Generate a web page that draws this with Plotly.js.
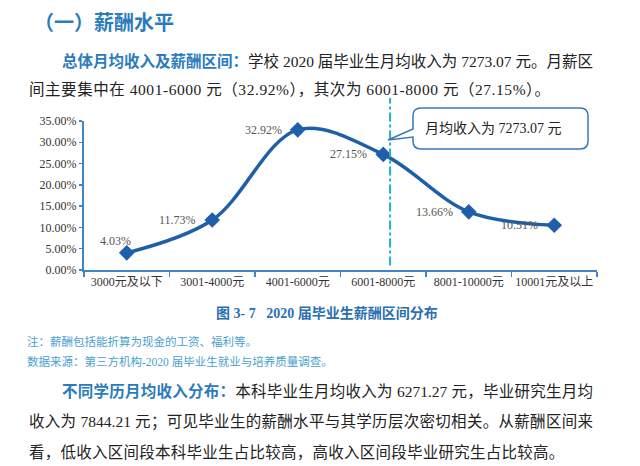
<!DOCTYPE html>
<html>
<head>
<meta charset="utf-8">
<script src="https://cdn.plot.ly/plotly-3.0.1.min.js"></script>
<style>
  html, body { margin: 0; padding: 0; background: #fff; }
  #page { position: relative; width: 640px; height: 466px; overflow: hidden; }
  #myDiv { position: absolute; left: 0; top: 0; width: 640px; height: 466px; }
  .ln { position: absolute; white-space: nowrap; line-height: 20px; height: 20px;
        font-family: "Liberation Serif", "Noto Sans CJK SC", serif; color: #222; font-size: 15.5px; }
  .just { text-align: justify; text-align-last: justify; }
  .kw { color: #2b7bbf; font-family: "Noto Sans CJK SC", sans-serif; font-weight: bold; }
  .head { color: #2b7bbf; font-family: "Noto Sans CJK SC", sans-serif; font-weight: bold; font-size: 20px; line-height: 26px; height: 26px; }
  .cap { color: #2a6fb0; font-family: "Liberation Serif", "Noto Sans CJK SC", serif; font-weight: bold; font-size: 14px; }
  .note { color: #4a9fd0; font-size: 11.5px; }
</style>
</head>
<body>
<div id="page">
  <div id="myDiv"></div>
  <div class="ln head" style="left:34px; top:9px;">（一）薪酬水平</div>
  <div class="ln just" style="left:62px; top:50px; width:528px;"><span class="kw">总体月均收入及薪酬区间：</span>学校 2020 届毕业生月均收入为 7273.07 元。月薪区</div>
  <div class="ln" style="left:29px; top:80px; letter-spacing:0.55px;">间主要集中在 4001-6000 元（32.92%），其次为 6001-8000 元（27.15%）。</div>

  <div class="ln cap" style="left:216px; top:304px;">图 3- 7&nbsp;&nbsp;&nbsp;2020 届毕业生薪酬区间分布</div>
  <div class="ln note" style="left:27px; top:332px;">注：薪酬包括能折算为现金的工资、福利等。</div>
  <div class="ln note" style="left:27px; top:352px;">数据来源：第三方机构-2020 届毕业生就业与培养质量调查。</div>

  <div class="ln just" style="left:62px; top:380px; width:531px;"><span class="kw">不同学历月均收入分布：</span>本科毕业生月均收入为 6271.27 元，毕业研究生月均</div>
  <div class="ln just" style="left:29px; top:412px; width:564px;">收入为 7844.21 元；可见毕业生的薪酬水平与其学历层次密切相关。从薪酬区间来</div>
  <div class="ln" style="left:29px; top:443px; letter-spacing:0.25px;">看，低收入区间段本科毕业生占比较高，高收入区间段毕业研究生占比较高。</div>
</div>
<script>
var categories = ['3000元及以下', '3001-4000元', '4001-6000元', '6001-8000元', '8001-10000元', '10001元及以上'];
var shares = [0.0403, 0.1173, 0.3292, 0.2715, 0.1366, 0.1051];
var yTicks = [0, 0.05, 0.10, 0.15, 0.20, 0.25, 0.30, 0.35];
var calloutText = '月均收入为 7273.07 元';

var serif = '"Liberation Serif", "Noto Sans CJK SC", serif';
var lineBlue = '#1f5ea8';
var axisBlue = '#3f86c6';

// plot area in page pixels, used for the callout drawn in paper units
var L = 84, T = 121, W = 513, H = 149;
function px(x) { return ((x - L) / W).toFixed(4); }
function py(y) { return ((T + H - y) / H).toFixed(4); }
function P(x, y) { return px(x) + ',' + py(y); }

var bubble = 'M' + P(421, 108) + 'L' + P(580, 108) + 'Q' + P(588, 108) + ' ' + P(588, 116) +
  'L' + P(588, 141) + 'Q' + P(588, 149) + ' ' + P(580, 149) +
  'L' + P(421, 149) + 'Q' + P(413, 149) + ' ' + P(413, 141) +
  'L' + P(413, 137) + 'L' + P(388, 140) + 'L' + P(413, 129) +
  'L' + P(413, 116) + 'Q' + P(413, 108) + ' ' + P(421, 108) + 'Z';

var trace1 = {
  x: categories,
  y: shares,
  type: 'scatter',
  mode: 'lines+markers',
  line: {color: lineBlue, width: 3.5, shape: 'spline', smoothing: 1},
  marker: {symbol: 'diamond', size: 12, color: lineBlue},
  hoverinfo: 'skip'
};

var labels = shares.map(function (v, i) {
  var first = i === 0;
  return {
    x: categories[i], y: v, xref: 'x', yref: 'y',
    text: (v * 100).toFixed(2) + '%',
    showarrow: false,
    xanchor: first ? 'center' : 'right',
    yanchor: 'middle',
    xshift: first ? -11 : -14,
    yshift: first ? 12 : 0,
    font: {family: serif, size: 12, color: '#555'}
  };
});

labels.push({
  x: +px(493), y: +py(128), xref: 'paper', yref: 'paper',
  xanchor: 'center', yanchor: 'middle',
  text: calloutText, showarrow: false,
  font: {family: serif, size: 14, color: '#222'}
});

var layout = {
  width: 640, height: 466,
  margin: {l: L, r: 640 - L - W, t: T, b: 466 - T - H},
  paper_bgcolor: 'rgba(0,0,0,0)',
  plot_bgcolor: 'rgba(0,0,0,0)',
  showlegend: false,
  xaxis: {
    type: 'category', range: [-0.5, 5.5], tickangle: 0,
    showline: true, linecolor: axisBlue, linewidth: 2,
    ticks: 'outside', tickson: 'boundaries', ticklen: 5, tickcolor: axisBlue, tickwidth: 1.5,
    showgrid: false, zeroline: false, fixedrange: true,
    tickfont: {family: serif, size: 12, color: '#333'}
  },
  yaxis: {
    range: [0, 0.35], tickvals: yTicks, tickformat: '.2%',
    showline: true, linecolor: axisBlue, linewidth: 2,
    ticks: 'outside', ticklen: 3, tickcolor: axisBlue, tickwidth: 1.5,
    showgrid: false, zeroline: false, fixedrange: true,
    tickfont: {family: serif, size: 12, color: '#333'}
  },
  shapes: [
    {type: 'line', xref: 'x', yref: 'paper', x0: 3.08, x1: 3.08, y0: 0.03, y1: 1.154,
     line: {color: '#1fb3c4', width: 2, dash: 'dashdot'}},
    {type: 'path', xref: 'paper', yref: 'paper', path: bubble,
     fillcolor: '#fff', line: {color: '#3a78b5', width: 1.5}}
  ],
  annotations: labels
};

Plotly.newPlot('myDiv', [trace1], layout, {displayModeBar: false, staticPlot: true});
</script>
</body>
</html>
